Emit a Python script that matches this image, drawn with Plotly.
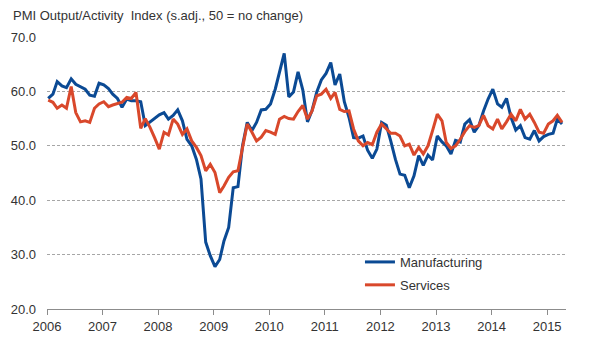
import pandas as pd
import plotly.graph_objects as go

start_month = "2006-01-01"

manufacturing = [
    58.7, 59.5, 61.8, 61.0, 60.7, 62.3, 61.3, 60.9, 60.4, 59.3, 59.1, 61.5,
    61.2, 60.5, 59.5, 58.7, 57.1, 58.6, 58.3, 58.3, 58.1, 53.7, 54.4, 54.9,
    55.7, 56.1, 54.9, 55.6, 56.6, 54.6, 51.2, 50.0, 47.5, 43.9, 32.3, 29.8,
    27.8, 29.1, 32.5, 35.0, 42.3, 42.5, 50.0, 54.3, 52.8, 54.3, 56.6, 56.7,
    57.7, 60.4, 63.8, 67.0, 59.0, 59.9, 63.6, 60.3, 54.4, 56.5, 59.9, 62.1,
    63.3, 65.3, 61.2, 63.2, 58.1, 55.2, 51.5, 51.4, 51.8, 49.2, 47.7, 49.4,
    54.3, 53.8, 50.9, 47.5, 44.8, 44.6, 42.3, 44.5, 48.2, 46.4, 48.3, 47.4,
    51.8, 50.7, 50.0, 48.5, 51.0, 50.7, 54.0, 54.8, 52.5, 53.7, 56.4, 58.6,
    60.4, 57.7, 57.1, 58.7, 55.2, 52.9, 53.7, 51.5, 51.2, 52.8, 50.9, 51.7,
    52.1, 52.3, 54.9, 54.0,
]

services = [
    58.4, 58.0, 56.9, 57.5, 56.9, 60.9, 56.1, 54.4, 54.6, 54.3, 56.9, 57.7,
    58.1, 57.2, 57.5, 57.8, 58.0, 58.9, 58.7, 59.8, 53.2, 55.0, 53.4, 51.5,
    49.4, 52.5, 52.0, 54.9, 54.0, 52.1, 53.1, 50.9, 49.7, 48.2, 45.4, 46.6,
    45.1, 41.4, 42.6, 44.2, 45.2, 45.4, 50.0, 54.0, 52.5, 50.9, 51.6, 52.8,
    52.5, 52.1, 54.9, 55.4, 55.0, 54.9, 56.3, 57.4, 54.9, 56.4, 59.2, 59.5,
    60.4, 58.7, 59.8, 56.7, 56.3, 56.4, 53.1, 50.9, 50.0, 50.6, 50.2, 52.5,
    54.0, 53.1, 52.3, 52.3, 51.8, 50.0, 50.3, 48.3, 49.7, 48.5, 50.0, 52.8,
    55.8, 54.6, 50.6, 49.5, 50.0, 51.2, 52.6, 53.7, 53.4, 53.7, 55.6, 53.7,
    53.1, 54.9, 53.1, 54.4, 55.8, 54.6, 56.7, 54.9, 55.8, 54.3, 52.5, 52.3,
    54.0, 54.6, 55.6, 54.3,
]

y_ticks = [20, 30, 40, 50, 60, 70]
title_text = "PMI Output/Activity\u00a0 Index (s.adj., 50 = no change)"

dates = pd.date_range(start_month, periods=len(manufacturing), freq="MS") + pd.Timedelta(days=8)

font_family = "Liberation Sans, Arial, sans-serif"
grey = "#8c8c8c"

fig = go.Figure()
fig.add_trace(go.Scatter(x=dates, y=manufacturing, mode="lines", name="Manufacturing",
                         legendgroup="m", line=dict(color="#0b4a94", width=3)))
fig.add_trace(go.Scatter(x=dates, y=services, mode="lines", name="Services",
                         legendgroup="s", line=dict(color="#d9482b", width=3)))

fig.update_layout(
    width=590, height=354,
    margin=dict(l=47, r=24, t=37, b=45),
    paper_bgcolor="white", plot_bgcolor="white",
    font=dict(family=font_family, size=13, color="#333333"),
    showlegend=True,
    legend=dict(x=0.603, y=0.228, xanchor="left", yanchor="top",
                bgcolor="rgba(0,0,0,0)", font=dict(size=13, color="#333333"),
                traceorder="grouped", tracegroupgap=3),
    annotations=[dict(text=title_text, x=0, y=1, xref="paper", yref="paper",
                      xshift=-36, yshift=22, xanchor="left", yanchor="middle",
                      showarrow=False, font=dict(size=13, color="#333333"))],
)
fig.update_xaxes(
    type="date",
    range=["2006-01-01", "2015-05-05"],
    dtick="M12", tick0="2006-01-01", tickformat="%Y",
    showgrid=False, zeroline=False,
    showline=True, linecolor=grey, linewidth=1,
    ticks="outside", ticklen=5, tickcolor=grey, tickwidth=1,
    tickfont=dict(size=13, color="#333333"),
)
fig.update_yaxes(
    range=[20, 70], tickvals=y_ticks, tickformat=".1f",
    showgrid=True, gridcolor="#a6a6a6", gridwidth=1, griddash="3px,2px",
    zeroline=False, showline=False, ticks="",
    ticklabelstandoff=10,
    tickfont=dict(size=13, color="#333333"),
)

fig.write_html("out.html")
